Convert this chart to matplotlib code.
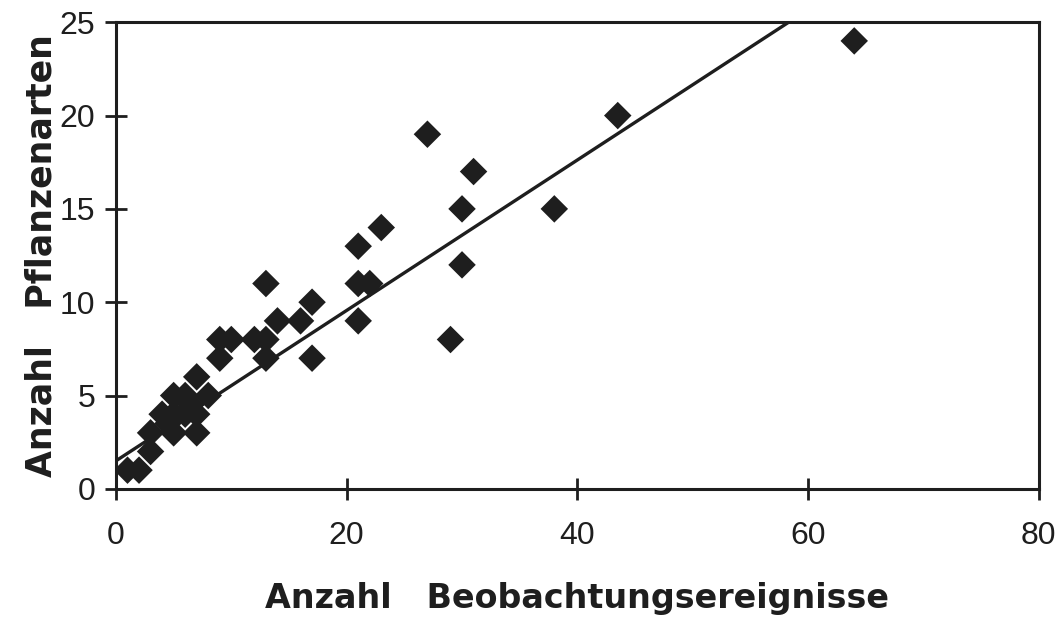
#!/usr/bin/env python3
"""Anzahl Pflanzenarten vs Anzahl Beobachtungsereignisse, scatter with fitted line."""
import numpy as np
import matplotlib
matplotlib.use("Agg")
import matplotlib.pyplot as plt

INK = "#1e1e1e"

beobachtungen = [1, 2, 3, 3, 4, 5, 5, 5, 6, 6, 7, 7, 8, 7, 9, 9, 10, 12, 13, 13,
                 14, 16, 17, 17, 13, 21, 21, 22, 21, 23, 27, 29, 30, 30, 31, 38, 43.5, 64,
                 6.5, 4.5]
pflanzenarten = [1, 1, 2, 3, 4, 3, 4, 5, 4, 5, 3, 6, 5, 4, 7, 8, 8, 8, 8, 7,
                 9, 9, 10, 7, 11, 9, 11, 11, 13, 14, 19, 8, 12, 15, 17, 15, 20, 24,
                 4.5, 3.5]

# regression line (intercept, slope) as drawn in the reference
fit_intercept = 1.5
fit_slope = 0.403

x_ticks = [0, 20, 40, 60, 80]
y_ticks = [0, 5, 10, 15, 20, 25]

plt.rcParams["font.family"] = ["Liberation Sans", "DejaVu Sans"]

fig = plt.figure(figsize=(10.6, 6.18), dpi=100)
ax = fig.add_axes([0.1094, 0.209, 0.8706, 0.755])

ax.scatter(beobachtungen, pflanzenarten, marker="D", s=14 ** 2, color=INK,
           edgecolors="none", zorder=3)
xf = np.array([0, 80])
ax.plot(xf, fit_intercept + fit_slope * xf, color=INK, lw=2.4, zorder=2)

ax.set_xlim(0, 80); ax.set_ylim(0, 25)
ax.set_xticks(x_ticks); ax.set_yticks(y_ticks)
for s in ax.spines.values():
    s.set_linewidth(2.2); s.set_color(INK)
ax.tick_params(direction="inout", length=16, width=2, color=INK,
               labelsize=23, labelcolor=INK)
ax.tick_params(axis="y", pad=7)
ax.tick_params(axis="x", pad=15)

lab_font = dict(fontweight="bold", color=INK, family="DejaVu Sans")
ax.set_xlabel("Anzahl   Beobachtungsereignisse", fontsize=24, **lab_font)
ax.set_ylabel("Anzahl   Pflanzenarten", fontsize=25, **lab_font)
ax.xaxis.set_label_coords(0.5, -0.2)
ax.yaxis.set_label_coords(-0.062, 0.5)

fig.savefig("out.png", dpi=100, facecolor="white")
